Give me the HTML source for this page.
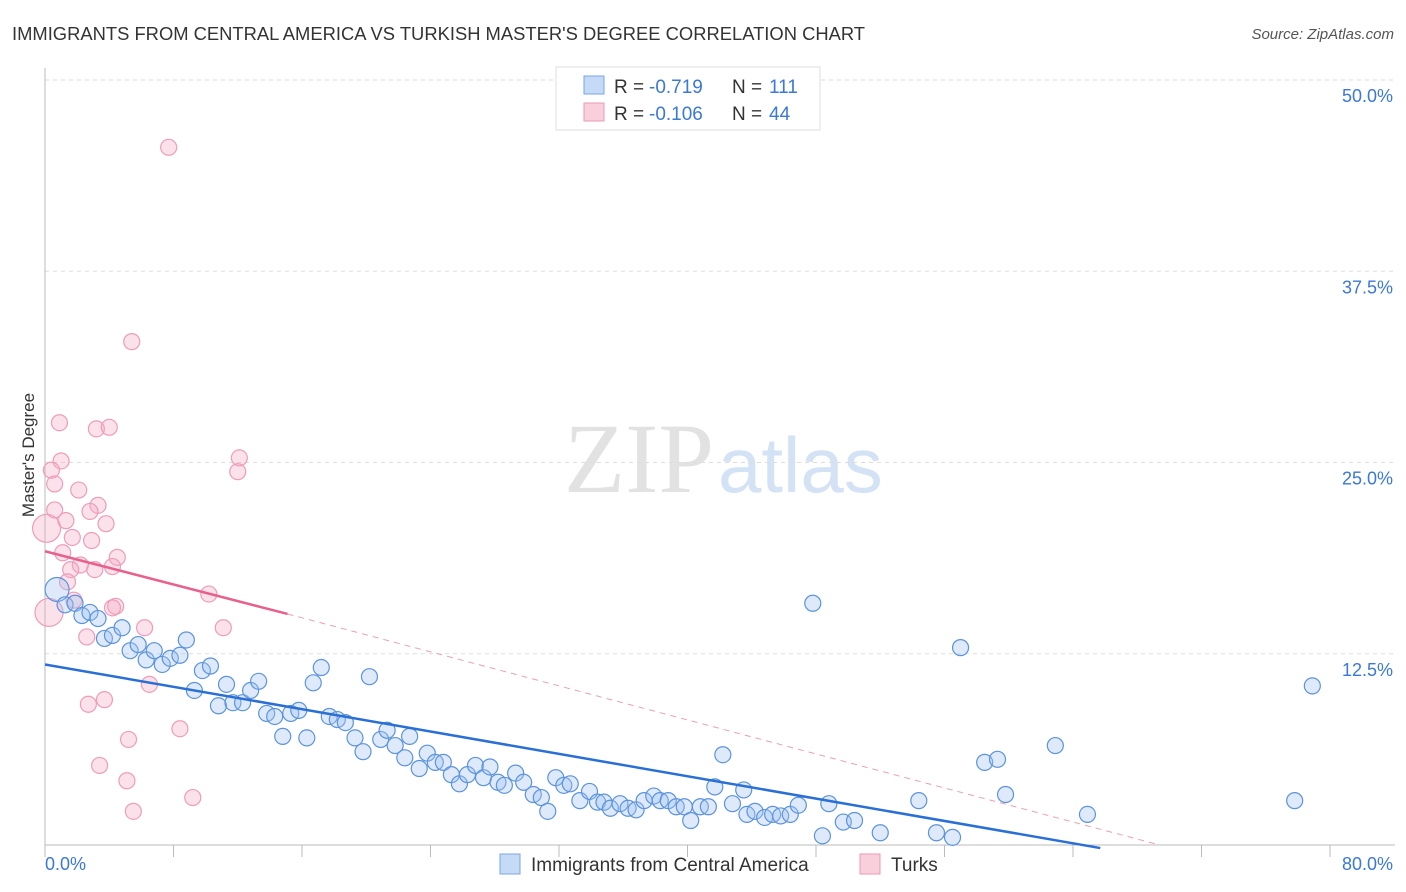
<!DOCTYPE html>
<html><head><meta charset="utf-8"><style>
body{margin:0;background:#fff;font-family:"Liberation Sans",sans-serif;}
svg{display:block}
</style></head><body>
<svg id="chart" width="1406" height="892">
<text x="12" y="40" font-size="18" fill="#333" textLength="853" lengthAdjust="spacingAndGlyphs">IMMIGRANTS FROM CENTRAL AMERICA VS TURKISH MASTER'S DEGREE CORRELATION CHART</text>
<text x="1394" y="39" font-size="15" fill="#555" font-style="italic" text-anchor="end">Source: ZipAtlas.com</text>
<text x="714" y="492" font-size="100" fill="#e2e2e2" text-anchor="end" font-family="Liberation Serif">ZIP</text>
<text x="718" y="492" font-size="78" fill="#d3e2f4">atlas</text>
<g id="grid"></g>
<g id="axes"></g>
<g id="marks"></g>
<text transform="translate(34,455) rotate(-90)" font-size="17" fill="#333" text-anchor="middle">Master's Degree</text>
<g>
<rect x="556" y="67" width="264" height="63" fill="#fff" stroke="#ddd"/>
<rect x="584" y="76" width="20" height="18" fill="#c5daf6" stroke="#7aa6e2"/>
<text x="614" y="93" font-size="19" fill="#333">R =</text>
<text x="649" y="93" font-size="19" fill="#3b78d8">-0.719</text>
<text x="732" y="93" font-size="19" fill="#333">N =</text>
<text x="769" y="93" font-size="19" fill="#3b78d8">111</text>
<rect x="584" y="103" width="20" height="18" fill="#f9cfdc" stroke="#ec9ab6"/>
<text x="614" y="120" font-size="19" fill="#333">R =</text>
<text x="649" y="120" font-size="19" fill="#3b78d8">-0.106</text>
<text x="732" y="120" font-size="19" fill="#333">N =</text>
<text x="769" y="120" font-size="19" fill="#3b78d8">44</text>
</g>
<g>
<rect x="500" y="854" width="20" height="20" fill="#c5daf6" stroke="#7aa6e2"/>
<text x="531" y="871" font-size="19" fill="#333">Immigrants from Central America</text>
<rect x="860" y="854" width="20" height="20" fill="#f9cfdc" stroke="#ec9ab6"/>
<text x="891" y="871" font-size="19" fill="#333">Turks</text>
</g>
</svg>
<script>
const yTicks=[12.5,25,37.5,50];
const yTickLabels=["12.5%","25.0%","37.5%","50.0%"];
const xTicks=[0,8,16,24,32,40,48,56,64,72,80];
const blueX=[0.75,1.25,1.87,2.3,2.8,3.3,3.7,4.2,4.8,5.3,5.8,6.3,6.8,7.3,7.8,8.4,8.8,9.3,9.8,10.3,10.8,11.3,11.7,12.3,12.8,13.3,13.8,14.3,14.8,15.3,15.8,16.3,16.7,17.2,17.7,18.2,18.7,19.3,19.8,20.2,20.9,21.3,21.8,22.4,22.7,23.3,23.8,24.3,24.8,25.3,25.8,26.3,26.8,27.3,27.7,28.2,28.6,29.3,29.8,30.4,30.9,31.3,31.8,32.3,32.7,33.3,33.9,34.4,34.8,35.2,35.8,36.3,36.8,37.3,37.9,38.3,38.8,39.3,39.8,40.2,40.8,41.3,41.7,42.2,42.8,43.5,43.7,44.2,44.8,45.3,45.8,46.4,46.9,47.8,48.4,48.8,49.7,50.4,52.0,54.4,55.5,56.5,57.0,58.5,59.3,59.8,62.9,64.9,77.8,78.9];
const blueY=[16.7,15.7,15.8,15.0,15.2,14.8,13.5,13.7,14.2,12.7,13.1,12.1,12.7,11.8,12.2,12.4,13.4,10.1,11.4,11.7,9.1,10.5,9.3,9.3,10.1,10.7,8.6,8.4,7.1,8.6,8.8,7.0,10.6,11.6,8.4,8.2,8.0,7.0,6.1,11.0,6.9,7.5,6.5,5.7,7.1,5.0,6.0,5.4,5.4,4.6,4.0,4.6,5.2,4.4,5.1,4.1,3.9,4.7,4.1,3.3,3.1,2.2,4.4,3.9,4.0,2.9,3.5,2.8,2.8,2.4,2.7,2.4,2.3,2.9,3.2,2.9,2.9,2.5,2.5,1.6,2.5,2.5,3.8,5.9,2.7,3.6,2.0,2.2,1.8,2.0,1.9,2.0,2.6,15.8,0.6,2.7,1.5,1.6,0.8,2.9,0.8,0.5,12.9,5.4,5.6,3.3,6.5,2.0,2.9,10.4];
const pinkX=[7.7,5.4,0.9,3.2,4.0,12.1,12.0,1.0,0.4,0.6,2.1,0.6,3.3,2.8,1.3,3.8,0.1,1.7,2.9,1.1,4.5,2.2,4.2,3.1,1.6,1.4,1.8,0.25,4.4,4.2,10.2,11.1,6.2,2.6,6.5,8.4,3.7,2.7,5.2,3.4,5.1,5.5,9.2];
const pinkY=[45.6,32.9,27.6,27.2,27.3,25.3,24.4,25.1,24.5,23.6,23.2,21.9,22.2,21.8,21.2,21.0,20.7,20.1,19.9,19.1,18.8,18.3,18.2,18.0,18.0,17.2,16.0,15.2,15.6,15.5,16.4,14.2,14.2,13.6,10.5,7.6,9.5,9.2,6.9,5.2,4.2,2.2,3.1];
const blueTrend=[11.8,-0.2];const blueTrendX=[0,65.7];
const pinkTrend=[19.2,15.1,0];const pinkTrendX=[0,15.1,69.4];
const NS="http://www.w3.org/2000/svg";
const sx=v=>45+v/80*1285, sy=v=>845-v*15.3;
function mk(t,a,p){const e=document.createElementNS(NS,t);for(const k in a)e.setAttribute(k,a[k]);document.getElementById(p).appendChild(e);return e;}
yTicks.forEach((t,i)=>{
 const l=mk('line',{x1:45,x2:1395,y1:sy(t),y2:sy(t),stroke:'#ddd','stroke-dasharray':'4,4'},'grid');
 
 
 const tx=mk('text',{x:1393,y:sy(t)+22,'font-size':18,fill:'#3b78d8','text-anchor':'end'},'axes');tx.textContent=yTickLabels[i];
 
 
});
mk('line',{x1:45,x2:45,y1:68,y2:845,stroke:'#bbb'},'axes');
mk('line',{x1:45,x2:1395,y1:845,y2:845,stroke:'#bbb'},'axes');
xTicks.forEach(t=>{const l=mk('line',{x1:sx(t),x2:sx(t),y1:845,y2:857,stroke:'#bbb'},'axes');
 
 });
let a=mk('text',{x:45,y:870,'font-size':18,fill:'#3b78d8'},'axes');a.textContent='0.0%';


a=mk('text',{x:1393,y:870,'font-size':18,fill:'#3b78d8','text-anchor':'end'},'axes');a.textContent='80.0%';


pinkX.forEach((x,i)=>{const r=(i==16||i==27)?14:8;const c=mk('circle',{cx:sx(x),cy:sy(pinkY[i]),r:r,fill:'rgba(244,170,196,0.35)',stroke:'#ee9cba','stroke-width':1.2},'marks');
 
 });
blueX.forEach((x,i)=>{const r=i==0?12:8;const c=mk('circle',{cx:sx(x),cy:sy(blueY[i]),r:r,fill:'rgba(160,196,240,0.35)',stroke:'#5b93dc','stroke-width':1.2},'marks');
 
 });
let t=mk('line',{x1:sx(blueTrendX[0]),y1:sy(blueTrend[0]),x2:sx(blueTrendX[1]),y2:sy(blueTrend[1]),stroke:'#2a6fd6','stroke-width':2.5},'marks');


t=mk('line',{x1:sx(pinkTrendX[0]),y1:sy(pinkTrend[0]),x2:sx(pinkTrendX[1]),y2:sy(pinkTrend[1]),stroke:'#e8618d','stroke-width':2.5},'marks');


t=mk('line',{x1:sx(pinkTrendX[1]),y1:sy(pinkTrend[1]),x2:sx(pinkTrendX[2]),y2:sy(pinkTrend[2]),stroke:'#e8a0b8','stroke-width':1,'stroke-dasharray':'6,5'},'marks');


</script>
</body></html>
